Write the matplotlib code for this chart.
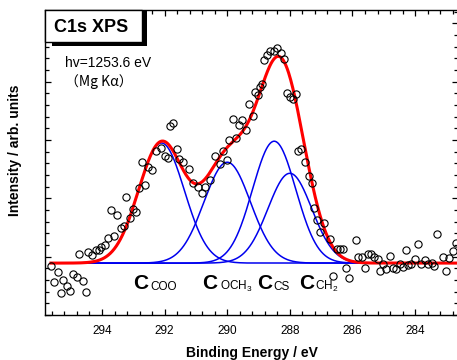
import numpy as np
import matplotlib.pyplot as plt
from matplotlib.patches import Rectangle
from matplotlib.ticker import MultipleLocator, NullFormatter

plt.rcParams['font.family'] = ['Liberation Sans', 'DejaVu Sans']
plt.rcParams['mathtext.fontset'] = 'custom'
plt.rcParams['mathtext.rm'] = 'Liberation Sans'

# measured C1s spectrum (binding energy in eV, intensity in arb. units)
energy = [295.63, 295.52, 295.42, 295.32, 295.24, 295.12, 295.02, 294.92, 294.81, 294.73,
          294.62, 294.52, 294.44, 294.32, 294.20, 294.10, 294.02, 293.90, 293.81, 293.72,
          293.62, 293.53, 293.39, 293.30, 293.22, 293.10, 293.02, 292.92, 292.81, 292.73,
          292.64, 292.52, 292.41, 292.28, 292.11, 292.00, 291.89, 291.83, 291.73, 291.61,
          291.54, 291.41, 291.22, 291.09, 290.93, 290.81, 290.71, 290.55, 290.39, 290.23,
          290.12, 290.02, 289.93, 289.81, 289.73, 289.61, 289.53, 289.40, 289.30, 289.19,
          289.11, 289.01, 288.96, 288.90, 288.81, 288.73, 288.62, 288.51, 288.40, 288.29,
          288.19, 288.10, 287.99, 287.90, 287.81, 287.73, 287.63, 287.53, 287.40, 287.30,
          287.24, 287.12, 287.04, 286.91, 286.72, 286.61, 286.51, 286.40, 286.30, 286.20,
          286.10, 285.89, 285.82, 285.70, 285.60, 285.51, 285.40, 285.31, 285.20, 285.12,
          285.02, 284.92, 284.81, 284.71, 284.60, 284.49, 284.39, 284.30, 284.23, 284.13,
          284.01, 283.92, 283.81, 283.69, 283.59, 283.47, 283.39, 283.30, 283.12, 283.01,
          282.91, 282.80, 282.68]
intensity = [0.84, 0.57, 0.73, 0.37, 0.60, 0.50, 0.41, 0.70, 0.65, 1.04,
             0.58, 0.40, 1.08, 1.03, 1.11, 1.12, 1.16, 1.20, 1.32, 1.80,
             1.36, 1.72, 1.50, 1.52, 2.02, 1.66, 1.82, 1.77, 2.18, 2.63,
             2.23, 2.54, 2.49, 2.82, 2.87, 2.73, 2.69, 3.24, 3.30, 2.84,
             2.68, 2.62, 2.50, 2.27, 2.20, 2.10, 2.20, 2.32, 2.72, 2.59,
             2.82, 2.66, 3.00, 3.36, 3.03, 3.26, 3.35, 3.17, 3.62, 3.41,
             3.83, 3.77, 3.91, 3.96, 4.37, 4.45, 4.52, 4.52, 4.57, 4.50,
             4.39, 3.80, 3.73, 3.70, 3.79, 2.82, 2.85, 2.63, 2.38, 2.26,
             1.84, 1.63, 1.42, 1.57, 1.30, 0.67, 1.14, 1.14, 1.14, 0.81,
             0.64, 1.28, 0.99, 1.00, 0.80, 1.04, 1.05, 1.00, 0.96, 0.76,
             0.87, 0.79, 1.02, 0.81, 0.79, 0.88, 0.82, 1.12, 0.86, 0.88,
             0.96, 1.21, 0.88, 0.94, 0.87, 0.90, 0.84, 1.39, 0.99, 0.76,
             0.98, 1.09, 1.23]

# gaussian fit components
peak_labels = ["COO", "OCH$_3$", "CS", "CH$_2$"]
peak_centers = [292.1, 290.0, 288.5, 288.0]
peak_heights = [2.06, 1.73, 2.09, 1.54]
peak_sigmas = [0.73, 0.74, 0.69, 0.70]
background = 0.89

fig = plt.figure(figsize=(4.57, 3.6), dpi=100)
ax = fig.add_axes([45 / 457, 45 / 360, 413 / 457, 305 / 360])

x = np.linspace(282.6, max(energy), 600)
total = np.full_like(x, background)
for c, h, s in zip(peak_centers, peak_heights, peak_sigmas):
    comp = h * np.exp(-(x - c) ** 2 / (2 * s ** 2))
    ax.plot(x, background + comp, color='#0000ee', lw=1.1, zorder=2)
    total += comp
ax.plot(x, total, color='#ff0000', lw=2.2, zorder=3)
ax.plot(energy, intensity, 'o', ms=5.2, mfc='none', mec='black', mew=0.8, zorder=4)

ax.set_xlim(295.82, 282.63)
ax.set_ylim(0, 5.23)
ax.xaxis.set_major_locator(MultipleLocator(2))
ax.xaxis.set_minor_locator(MultipleLocator(0.4))
ax.yaxis.set_major_locator(MultipleLocator(1))
ax.yaxis.set_minor_locator(MultipleLocator(0.2))
ax.yaxis.set_major_formatter(NullFormatter())
ax.tick_params(which='both', direction='in', top=True, right=True, width=0.9)
ax.tick_params(which='major', length=4.5)
ax.tick_params(which='minor', length=2.8)
ax.tick_params(axis='x', labelsize=8.5, pad=7)
for sp in ax.spines.values():
    sp.set_linewidth(1.0)

ax.set_xlabel("Binding Energy / eV", fontsize=10, fontweight='bold')
ax.set_ylabel("Intensity / arb. units", fontsize=10, fontweight='bold')
ax.xaxis.set_label_coords(0.5, -0.1)
ax.yaxis.set_label_coords(-0.055, 0.54)

# component labels
c_pos = [293.01, 290.81, 289.06, 287.70]
sub_pos = [292.47, 290.23, 288.54, 287.19]
for lab, cx, sx in zip(peak_labels, c_pos, sub_pos):
    ax.text(cx, 0.446, "C", fontsize=15, fontweight='bold', ha='left', va='baseline', zorder=5)
    ax.text(sx, 0.43, lab, fontsize=8.5, ha='left', va='baseline', zorder=5)

# title box with shadow
ax.add_patch(Rectangle((0.016, 0.883), 0.23, 0.117, transform=ax.transAxes,
                       facecolor='black', edgecolor='none', zorder=6, clip_on=False))
ax.add_patch(Rectangle((0.0, 0.895), 0.235, 0.105, transform=ax.transAxes,
                       facecolor='white', edgecolor='black', lw=1.0, zorder=7, clip_on=False))
ax.text(0.111, 0.944, "C1s XPS", transform=ax.transAxes, fontsize=13, fontweight='bold',
        ha='center', va='center', zorder=8)

ax.text(0.048, 0.826, "hv=1253.6 eV", transform=ax.transAxes, fontsize=10, va='center')
ax.text(0.048, 0.764, "（Mg Kα）", transform=ax.transAxes, fontsize=10, va='center',
        family=['Noto Sans CJK JP', 'DejaVu Sans'])

fig.savefig("out.png", dpi=100)
